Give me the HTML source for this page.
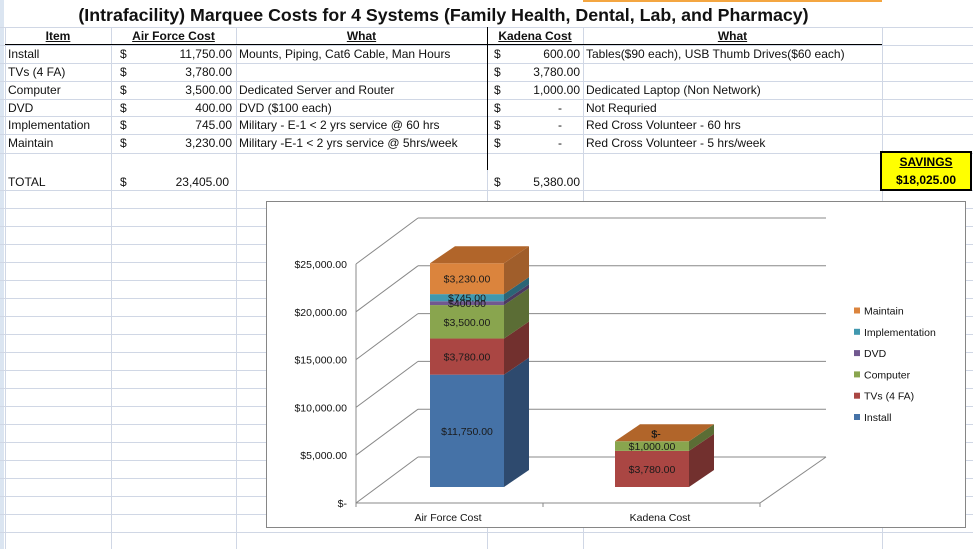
<!DOCTYPE html>
<html><head><meta charset="utf-8">
<style>
body{margin:0;width:973px;height:549px;overflow:hidden;background:#fff;font-family:"Liberation Sans",sans-serif;position:relative}
.t{position:absolute;font-size:12px;color:#111;white-space:nowrap;line-height:18px}
.r{text-align:right}
.h{font-weight:bold;text-decoration:underline;text-align:center}
.gl{position:absolute;background:#d0d7e5}
</style></head><body>
<div style="position:absolute;left:0;top:0;width:4px;height:549px;background:#dbe5f1"></div>
<div id="grid"></div>
<div style="position:absolute;left:583px;top:0;width:299px;height:2px;background:#f4a641"></div>
<div class="t" style="left:5px;width:877px;top:4px;font-size:17.8px;font-weight:bold;text-align:center;line-height:22px">(Intrafacility) Marquee Costs for 4 Systems (Family Health, Dental, Lab, and Pharmacy)</div>
<div style="position:absolute;left:5px;top:44px;width:877px;height:1px;background:#000"></div>
<div style="position:absolute;left:487px;top:27px;width:1px;height:143px;background:#000"></div>
<div class="t h" style="left:5px;width:106px;top:27px">Item</div>
<div class="t h" style="left:111px;width:125px;top:27px">Air Force Cost</div>
<div class="t h" style="left:236px;width:251px;top:27px">What</div>
<div class="t h" style="left:487px;width:96px;top:27px">Kadena Cost</div>
<div class="t h" style="left:583px;width:299px;top:27px">What</div>
<div id="rows"></div>
<div style="position:absolute;left:880px;top:151px;width:88px;height:36px;background:#ffff00;border:2px solid #000;text-align:center;font-weight:bold;font-size:12px;line-height:18px"><span style="text-decoration:underline">SAVINGS</span><br>$18,025.00</div>
<svg id="chart" style="position:absolute;left:0;top:0" width="973" height="549"></svg>
<script>
const cats=["Air Force Cost","Kadena Cost"];
const series=["Install","TVs (4 FA)","Computer","DVD","Implementation","Maintain"];
const afValues=[11750,3780,3500,400,745,3230];
const kadValues=[0,3780,1000,0,0,0];
const ticks=[0,5000,10000,15000,20000,25000];
const tickLabels=["$-","$5,000.00","$10,000.00","$15,000.00","$20,000.00","$25,000.00"];

const rowItems=["Install","TVs (4 FA)","Computer","DVD","Implementation","Maintain"];
const rowAf=["11,750.00","3,780.00","3,500.00","400.00","745.00","3,230.00"];
const rowAfWhat=["Mounts, Piping, Cat6 Cable, Man Hours","","Dedicated Server and Router","DVD ($100 each)","Military - E-1 < 2 yrs service @ 60 hrs","Military -E-1 < 2 yrs service @ 5hrs/week"];
const rowKad=["600.00","3,780.00","1,000.00","-","-","-"];
const rowKadWhat=["Tables($90 each), USB Thumb Drives($60 each)","","Dedicated Laptop   (Non Network)","Not Requried","Red Cross Volunteer - 60 hrs","Red Cross Volunteer - 5 hrs/week"];
const rowTops=[45,63,81,99,116,134];
const R=document.getElementById('rows');
function cell(txt,l,w,t,cls,name){const d=document.createElement('div');d.className='t '+(cls||'');d.style.left=l+'px';d.style.width=w+'px';d.style.top=t+'px';d.style.overflow='hidden';d.textContent=txt;


R.appendChild(d);}
rowItems.forEach((it,i)=>{const t=rowTops[i];
cell(it,8,103,t,'','item-'+i);cell('$',120,20,t,'','af-dollar-'+i);cell(rowAf[i],130,102,t,'r','af-cost-'+i);
cell(rowAfWhat[i],239,248,t,'','af-what-'+i);cell('$',494,20,t,'','kad-dollar-'+i);
cell(rowKad[i],500,(rowKad[i]=='-'?62:80),t,'r','kad-cost-'+i);cell(rowKadWhat[i],586,296,t,'','kad-what-'+i);});
cell('TOTAL',8,103,173,'','total-label');cell('$',120,20,173,'','total-af-dollar');cell('23,405.00',130,99,173,'r','total-af');
cell('$',494,20,173,'','total-kad-dollar');cell('5,380.00',500,80,173,'r','total-kad');

const G=document.getElementById('grid');
const hl=[27,45,63,81,99,116,134,153,190];for(let y=208;y<549;y+=18)hl.push(y);
hl.forEach(y=>{const d=document.createElement('div');d.className='gl';d.style.cssText+=`left:0;top:${y}px;width:973px;height:1px`;


G.appendChild(d);});
[5,111,236,487,583,882].forEach(x=>{const d=document.createElement('div');d.className='gl';d.style.cssText+=`left:${x}px;top:27px;width:1px;height:522px`;


G.appendChild(d);});

const S=document.getElementById('chart');const NS='http://www.w3.org/2000/svg';
function el(tag,attrs,name,txt){const e=document.createElementNS(NS,tag);for(const k in attrs)e.setAttribute(k,attrs[k]);if(txt!==undefined)e.textContent=txt;


S.appendChild(e);return e;}
el('rect',{x:266.5,y:201.5,width:699,height:326,fill:'#fff',stroke:'#868686'},'chart-area');
const maxV=25000,scale=239/maxV;
const fx0=356,fy0=503,DX=62,DY=-46;
const yFront=v=>fy0-v*scale;
ticks.forEach((v,i)=>{const y=yFront(v);
el('line',{x1:fx0,y1:y,x2:fx0+DX,y2:y+DY,stroke:'#888','stroke-width':1},'depth-gridline-'+i);
el('line',{x1:fx0+DX,y1:y+DY,x2:826,y2:y+DY,stroke:'#888','stroke-width':1},'gridline-'+i);
el('text',{x:347,y:y+4,'text-anchor':'end','font-size':10.5,fill:'#111','font-family':'Liberation Sans'},'y-tick-'+i,tickLabels[i]);});
el('line',{x1:fx0,y1:yFront(0),x2:fx0,y2:yFront(25000),stroke:'#888'},'y-axis');
el('line',{x1:fx0,y1:fy0,x2:760,y2:fy0,stroke:'#888'},'x-axis');
el('line',{x1:760,y1:fy0,x2:826,y2:fy0+DY,stroke:'#888'},'floor-right-edge');
[356,543,760].forEach((x,i)=>el('line',{x1:x,y1:fy0,x2:x,y2:fy0+4,stroke:'#888'},'x-tick-'+i));
const front=["#4572a7","#aa4643","#89a54e","#71588f","#4198af","#db843d"];
const side=["#2e4a6e","#72302e","#5b6d35","#4b3a60","#2b6576","#a05e2b"];
const topc="#b1652a";
const base=487,bw=74,bdx=25,bdy=-17;
const catCenters=[467,652];
[afValues,kadValues].forEach((vals,c)=>{const x=catCenters[c]-bw/2;let cum=0;
 vals.forEach((v,s)=>{if(v<=0){return;}const y1=base-cum*scale,y2=base-(cum+v)*scale;
  el('rect',{x:x,y:y2,width:bw,height:y1-y2,fill:front[s]},'bar-'+c+'-'+s);
  el('polygon',{points:`${x+bw},${y1} ${x+bw+bdx},${y1+bdy} ${x+bw+bdx},${y2+bdy} ${x+bw},${y2}`,fill:side[s]},'bar-side-'+c+'-'+s);
  cum+=v;});
 const yt=base-cum*scale;
 el('polygon',{points:`${x},${yt} ${x+bdx},${yt+bdy} ${x+bw+bdx},${yt+bdy} ${x+bw},${yt}`,fill:topc},'bar-top-'+c);
 cum=0;
 vals.forEach((v,s)=>{const yc=base-(cum+v/2)*scale;
  if(v>0)el('text',{x:catCenters[c],y:yc+4,'text-anchor':'middle','font-size':10.5,fill:'#1a1a1a','font-family':'Liberation Sans'},'label-'+c+'-'+s,'$'+v.toLocaleString('en-US',{minimumFractionDigits:2}));
  else if(s>0)el('text',{x:catCenters[c]+4,y:base-cum*scale-4,'text-anchor':'middle','font-size':10.5,fill:'#1a1a1a','font-family':'Liberation Sans'},'label-'+c+'-'+s,'$-');
  cum+=v;});
});
el('text',{x:448,y:521,'text-anchor':'middle','font-size':10.5,fill:'#111','font-family':'Liberation Sans'},'x-label-0',cats[0]);
el('text',{x:660,y:521,'text-anchor':'middle','font-size':10.5,fill:'#111','font-family':'Liberation Sans'},'x-label-1',cats[1]);
for(let i=series.length-1,k=0;i>=0;i--,k++){const y=311+k*21.3;
 el('rect',{x:854,y:y-3.5,width:6,height:6,fill:front[i]},'legend-swatch-'+i);
 el('text',{x:864,y:y+3.5,'font-size':10.5,fill:'#111','font-family':'Liberation Sans'},'legend-entry-'+i,series[i]);}
</script>
</body></html>
